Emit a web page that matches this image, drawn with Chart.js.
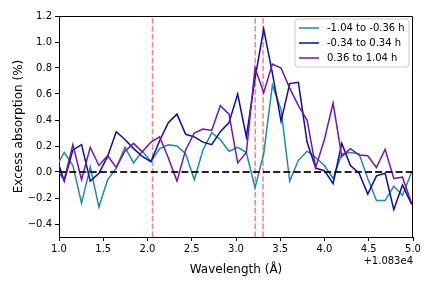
<!DOCTYPE html>
<html>
<head>
<meta charset="utf-8">
<script src="https://cdn.jsdelivr.net/npm/chart.js@4.4.0/dist/chart.umd.min.js"></script>
<style>
    html, body { margin: 0; padding: 0; background: #fff; }
</style>
</head>
<body>
<canvas id="absorptionChart" width="432" height="288"></canvas>
<script>
// wavelength minus 10830 A
const wavelength = [0.961, 1.059, 1.157, 1.255, 1.353, 1.451, 1.549, 1.647, 1.745, 1.843,
    1.941, 2.039, 2.137, 2.235, 2.333, 2.431, 2.529, 2.627, 2.725, 2.823,
    2.921, 3.019, 3.117, 3.215, 3.313, 3.411, 3.509, 3.607, 3.705, 3.803,
    3.901, 3.999, 4.097, 4.195, 4.293, 4.391, 4.489, 4.587, 4.685, 4.783,
    4.881, 4.979, 5.077];

const earlyAbs = [0.03, 0.15, 0.05, -0.24, 0.04, -0.27, -0.06, 0.03, 0.19, 0.07,
    0.16, 0.08, 0.18, 0.21, 0.20, 0.14, -0.06, 0.17, 0.30, 0.25,
    0.16, 0.19, 0.15, -0.12, 0.14, 0.67, 0.48, -0.07, 0.09, 0.16,
    0.11, 0.05, -0.05, 0.14, 0.15, 0.14, -0.05, -0.22, -0.22, -0.11,
    -0.18, -0.01, 0.08];

const midAbs = [0.13, -0.07, 0.17, 0.21, -0.07, -0.01, 0.12, 0.31, 0.25, 0.18,
    0.12, 0.08, 0.24, 0.38, 0.445, 0.29, 0.27, 0.23, 0.21, 0.31,
    0.38, 0.60, 0.27, 0.72, 1.10, 0.76, 0.39, 0.68, 0.69, 0.23,
    0.03, 0.01, -0.09, 0.22, 0.05, -0.01, -0.17, -0.03, -0.01, -0.29,
    -0.10, -0.24, -0.30];

const lateAbs = [0.03, -0.06, 0.21, -0.06, 0.19, 0.05, 0.125, 0.035, 0.16, 0.22,
    0.155, 0.23, 0.27, 0.11, -0.07, 0.17, 0.30, 0.33, 0.32, 0.51,
    0.445, 0.07, 0.15, 0.80, 0.61, 0.83, 0.80, 0.645, 0.51, 0.40,
    0.035, 0.25, 0.53, 0.12, 0.18, 0.13, 0.125, 0.035, 0.175, -0.05,
    -0.04, -0.23, -0.28];

const seriesLabels = ['-1.04 to -0.36 h', '-0.34 to 0.34 h', '0.36 to 1.04 h'];
const heLines = [2.057, 3.217, 3.306];
const xTicks = [1.0, 1.5, 2.0, 2.5, 3.0, 3.5, 4.0, 4.5, 5.0];
const yTicks = [-0.4, -0.2, 0.0, 0.2, 0.4, 0.6, 0.8, 1.0, 1.2];
const offsetLabel = '+1.083e4';

const FONT = 'DejaVu Sans';
const seriesColors = ['#1a8cab', '#0b0bab', '#7414ad'];

function toPoints(ys) {
    return wavelength.map((x, i) => ({ x: x, y: ys[i] }));
}

function fmt(v) {
    return v.toFixed(1).replace('-', '\u2212');
}

const datasets = [earlyAbs, midAbs, lateAbs].map((ys, i) => ({
    label: seriesLabels[i],
    data: toPoints(ys),
    borderColor: seriesColors[i],
    borderWidth: 1.5,
    pointRadius: 0,
    tension: 0,
    order: 3 - i
}));

heLines.forEach(w => {
    datasets.push({
        label: 'line ' + w,
        data: [{ x: w, y: -0.5 }, { x: w, y: 1.2 }],
        borderColor: 'rgba(255, 0, 0, 0.5)',
        borderWidth: 1.5,
        borderDash: [5.5, 2.4],
        pointRadius: 0,
        order: 5
    });
});

datasets.push({
    label: 'zero',
    data: [{ x: 1, y: 0 }, { x: 5, y: 0 }],
    borderColor: 'rgba(0, 0, 0, 0.85)',
    borderWidth: 1.8,
    borderDash: [7, 3.2],
    pointRadius: 0,
    order: 0
});

// top/right spines, offset text and matplotlib-like legend
const decorPlugin = {
    id: 'decor',
    afterDraw(chart) {
        const ctx = chart.ctx;
        const a = chart.chartArea;
        ctx.save();
        ctx.strokeStyle = '#000';
        ctx.lineWidth = 1;
        ctx.beginPath();
        ctx.moveTo(a.left, a.top + 0.5);
        ctx.lineTo(a.right - 0.5, a.top + 0.5);
        ctx.lineTo(a.right - 0.5, a.bottom);
        ctx.stroke();

        ctx.fillStyle = '#000';
        ctx.font = '10px "' + FONT + '"';
        ctx.textAlign = 'right';
        ctx.textBaseline = 'middle';
        ctx.fillText(offsetLabel, a.right, 261);

        // legend box
        const bx = 295, by = 19, bw = 114, bh = 48, r = 3;
        ctx.beginPath();
        ctx.moveTo(bx + r, by);
        ctx.arcTo(bx + bw, by, bx + bw, by + bh, r);
        ctx.arcTo(bx + bw, by + bh, bx, by + bh, r);
        ctx.arcTo(bx, by + bh, bx, by, r);
        ctx.arcTo(bx, by, bx + bw, by, r);
        ctx.closePath();
        ctx.fillStyle = 'rgba(255, 255, 255, 0.8)';
        ctx.fill();
        ctx.strokeStyle = '#cccccc';
        ctx.stroke();

        ctx.textAlign = 'left';
        for (let i = 0; i < 3; i++) {
            const yy = 28 + i * 15;
            ctx.strokeStyle = seriesColors[i];
            ctx.lineWidth = 1.5;
            ctx.beginPath();
            ctx.moveTo(299, yy);
            ctx.lineTo(319, yy);
            ctx.stroke();
            ctx.fillStyle = '#000';
            ctx.fillText(chart.data.datasets[i].label, 327, yy);
        }
        ctx.restore();
    }
};

const ctx = document.getElementById('absorptionChart').getContext('2d');
new Chart(ctx, {
    type: 'line',
    data: { datasets: datasets },
    options: {
        responsive: false,
        animation: false,
        layout: { padding: { top: 16, right: 19, bottom: 0, left: 0 } },
        plugins: {
            legend: { display: false },
            tooltip: { enabled: false }
        },
        scales: {
            x: {
                type: 'linear',
                min: 1,
                max: 5,
                afterFit: s => { s.height = 51; },
                afterBuildTicks: s => { s.ticks = xTicks.map(v => ({ value: v })); },
                grid: { drawOnChartArea: false, tickLength: 4, color: '#000' },
                border: { color: '#000', width: 1 },
                ticks: {
                    color: '#000',
                    font: { family: FONT, size: 10 },
                    padding: 2,
                    maxRotation: 0,
                    autoSkip: false,
                    callback: v => fmt(v)
                },
                title: {
                    display: true,
                    text: 'Wavelength (Å)',
                    color: '#000',
                    font: { family: FONT, size: 12 },
                    padding: { top: 0, bottom: 11 }
                }
            },
            y: {
                type: 'linear',
                min: -0.5,
                max: 1.2,
                afterFit: s => { s.width = 59; },
                afterBuildTicks: s => { s.ticks = yTicks.map(v => ({ value: v })); },
                grid: { drawOnChartArea: false, tickLength: 4, color: '#000' },
                border: { color: '#000', width: 1 },
                ticks: {
                    color: '#000',
                    font: { family: FONT, size: 10 },
                    padding: 3,
                    callback: v => fmt(v)
                },
                title: {
                    display: true,
                    text: 'Excess absorption (%)',
                    color: '#000',
                    font: { family: FONT, size: 12 },
                    padding: { top: 12, bottom: 0 }
                }
            }
        }
    },
    plugins: [decorPlugin]
});
</script>
</body>
</html>
